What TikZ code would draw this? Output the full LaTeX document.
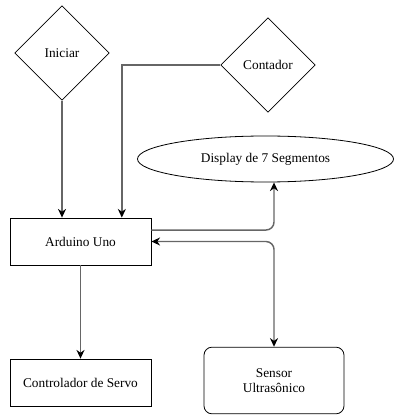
\documentclass[tikz,border=0pt]{standalone}
\usepackage{fontspec}
\setmainfont{Liberation Serif}
\usetikzlibrary{arrows.meta,shapes.geometric}

\begin{document}
\begin{tikzpicture}[x=0.75pt,y=-0.75pt,font=\rmfamily\fontsize{10}{11.5}\selectfont,
        decision/.style={diamond,draw,line width=0.6pt,aspect=1,minimum size=71pt,inner sep=0pt},
        block/.style={rectangle,draw,line width=0.6pt,minimum width=105.75pt,minimum height=35.25pt},
        roundblock/.style={block,rounded corners=6pt,minimum width=105pt,minimum height=50pt,align=center},
        cloud/.style={ellipse,draw,line width=0.6pt,minimum width=192pt,minimum height=34.5pt},
        line/.style={draw=black!60,line width=1.1pt,-{Stealth[black,length=6.5pt,width=6pt]}}]

  \useasboundingbox (0,0) rectangle (394,416);

  \node[decision]   (ini)  at (62,53)     {Iniciar};
  \node[decision]   (cont) at (268,65)    {Contador};
  \node[cloud]      (disp) at (265.5,159) {Display de 7 Segmentos};
  \node[block]      (ard)  at (80.5,241.5) {Arduino Uno};
  \node[block]      (serv) at (80.5,382.5) {Controlador de Servo};
  \node[roundblock] (sens) at (274,380.5)  {Sensor\\Ultras\^onico};

  \draw[line] (ini.south) -- (ini.south |- ard.north);
  \draw[line] (cont.west) -| ([xshift=31pt]ard.north);
  \draw[line,rounded corners=6pt] ([yshift=8.6pt]ard.east) -| (sens.north |- disp.south);
  \draw[line,{Stealth[black,length=6.5pt,width=6pt]}-{Stealth[black,length=6.5pt,width=6pt]},rounded corners=6pt]
        (ard.east) -| (sens.north);
  \draw[line] (ard.south) -- (serv.north);

\end{tikzpicture}
\end{document}
